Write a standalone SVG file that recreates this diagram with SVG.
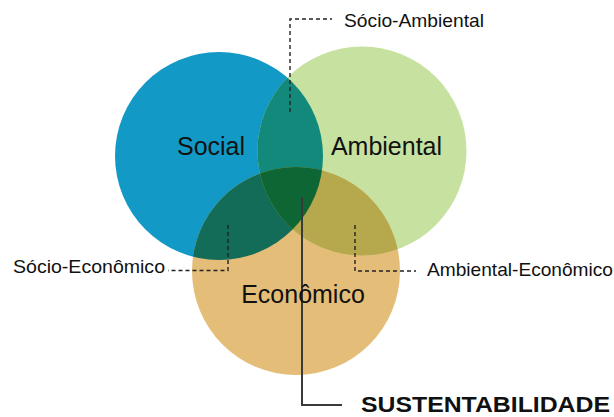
<svg xmlns="http://www.w3.org/2000/svg" width="614" height="417" viewBox="0 0 614 417">
  <style>
    .lbl { font-family: "Liberation Sans", Arial, Helvetica, sans-serif; fill: #111; }
    .main { font-size: 25px; text-anchor: middle; }
    .sub { font-size: 19px; }
    .key { font-size: 22px; font-weight: bold; }
    .dash { fill: none; stroke: #222; stroke-width: 1.4; stroke-dasharray: 4 3; }
    .solid { fill: none; stroke: #3a3a3a; stroke-width: 2; }
  </style>
  <defs>
    <clipPath id="cSocial"><circle cx="219" cy="156" r="104"/></clipPath>
    <clipPath id="cAmbiental"><circle cx="362" cy="151" r="104.5"/></clipPath>
    <clipPath id="cEconomico"><circle cx="296" cy="271" r="104"/></clipPath>
  </defs>
  <rect width="614" height="417" fill="#ffffff"/>

  <!-- three sets -->
  <g id="social"><circle cx="219" cy="156" r="104" fill="#1399c6"/></g>
  <g id="ambiental"><circle cx="362" cy="151" r="104.5" fill="#c6e1a0"/></g>
  <g id="economico"><circle cx="296" cy="271" r="104" fill="#e4be79"/></g>

  <!-- pairwise overlaps -->
  <g id="socio-ambiental" clip-path="url(#cSocial)"><circle cx="362" cy="151" r="104.5" fill="#12897a"/></g>
  <g id="socio-economico" clip-path="url(#cSocial)"><circle cx="296" cy="271" r="104" fill="#136c58"/></g>
  <g id="ambiental-economico" clip-path="url(#cAmbiental)"><circle cx="296" cy="271" r="104" fill="#b6a84c"/></g>

  <!-- centre: all three -->
  <g id="sustentabilidade-core" clip-path="url(#cSocial)">
    <g clip-path="url(#cAmbiental)"><circle cx="296" cy="271" r="104" fill="#0e6634"/></g>
  </g>

  <!-- leader lines -->
  <g id="connectors">
    <polyline class="dash" points="290,112 290,19 332,19"/>
    <polyline class="dash" points="228,225 228,270.5 168,270.5"/>
    <polyline class="dash" points="355,225 355,271 416,271"/>
    <polyline class="solid" points="302,197 302,405 342,405"/>
  </g>

  <!-- labels -->
  <text class="lbl main" x="211" y="155">Social</text>
  <text class="lbl main" x="386.5" y="155">Ambiental</text>
  <text class="lbl main" x="303" y="303">Econômico</text>
  <text class="lbl sub" x="344" y="27" textLength="140" lengthAdjust="spacingAndGlyphs">Sócio-Ambiental</text>
  <text class="lbl sub" x="13" y="273" textLength="152" lengthAdjust="spacingAndGlyphs">Sócio-Econômico</text>
  <text class="lbl sub" x="427" y="276" textLength="186" lengthAdjust="spacingAndGlyphs">Ambiental-Econômico</text>
  <text class="lbl key" x="361" y="412" textLength="249" lengthAdjust="spacingAndGlyphs">SUSTENTABILIDADE</text>
</svg>
